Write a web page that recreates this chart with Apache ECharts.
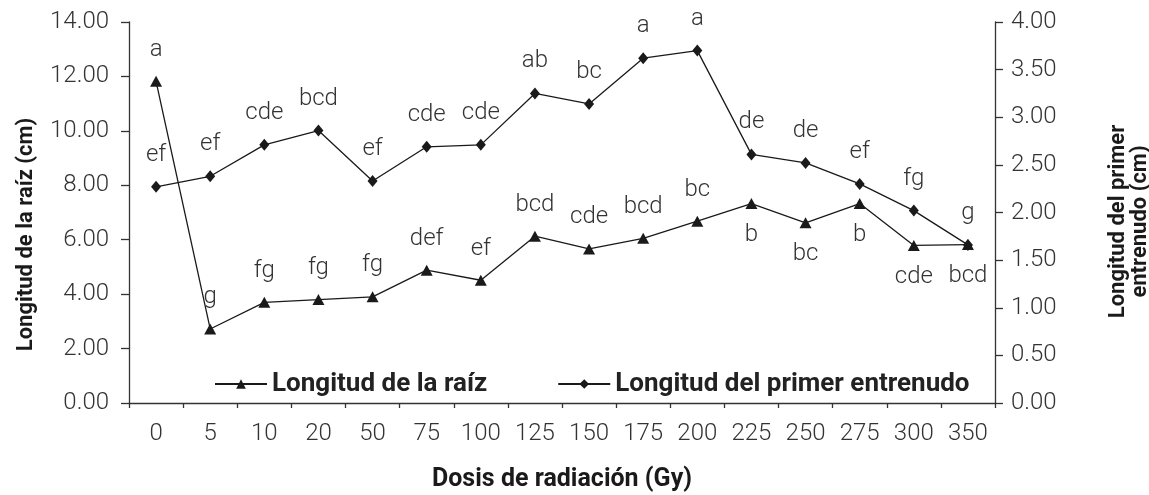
<!DOCTYPE html>
<html>
<head>
<meta charset="utf-8">
<script src="https://cdn.jsdelivr.net/npm/echarts@6/dist/echarts.min.js"></script>
<style>
  html, body { margin: 0; padding: 0; background: #fff; }
</style>
</head>
<body>
<div id="myChart" style="width:1149px;height:495px;"></div>
<script>
// datos
var dosis = ['0', '5', '10', '20', '50', '75', '100', '125', '150', '175', '200', '225', '250', '275', '300', '350'];
var raiz = [11.82, 2.72, 3.70, 3.80, 3.90, 4.88, 4.51, 6.13, 5.66, 6.05, 6.68, 7.33, 6.62, 7.33, 5.79, 5.82];
var raizLetras = ['a', 'g', 'fg', 'fg', 'fg', 'def', 'ef', 'bcd', 'cde', 'bcd', 'bc', 'b', 'bc', 'b', 'cde', 'bcd'];
var raizAbajo = [false, false, false, false, false, false, false, false, false, false, false, true, true, true, true, true];
var entrenudo = [2.27, 2.38, 2.71, 2.86, 2.33, 2.69, 2.71, 3.25, 3.14, 3.62, 3.70, 2.61, 2.52, 2.30, 2.02, 1.66];
var entrenudoLetras = ['ef', 'ef', 'cde', 'bcd', 'ef', 'cde', 'cde', 'ab', 'bc', 'a', 'a', 'de', 'de', 'ef', 'fg', 'g'];

var fuente = 'Roboto';
var negro = '#1a1a1a';

function conEtiquetas(valores, letras, abajo) {
  return valores.map(function (v, i) {
    return {
      value: v,
      label: {
        formatter: letras[i],
        position: (abajo && abajo[i]) ? 'bottom' : 'top'
      }
    };
  });
}

var myChart = echarts.init(document.getElementById('myChart'));

myChart.setOption({
  backgroundColor: '#fff',
  animation: false,
  textStyle: { fontFamily: fuente },
  grid: { left: 129, right: 154, top: 22, bottom: 92, outerBoundsMode: 'none' },
  legend: {
    left: 209,
    top: 366,
    itemWidth: 52,
    itemHeight: 12,
    itemGap: 70,
    textStyle: { fontFamily: fuente, fontSize: 26, fontWeight: 'bold', color: '#222' },
    data: ['Longitud de la raíz', 'Longitud del primer entrenudo']
  },
  xAxis: {
    type: 'category',
    data: dosis,
    boundaryGap: true,
    name: 'Dosis de radiación (Gy)',
    nameLocation: 'middle',
    nameGap: 64,
    nameTextStyle: { fontFamily: fuente, fontSize: 25, fontWeight: 'bold', color: negro },
    axisLine: { lineStyle: { color: '#333', width: 1.3 } },
    axisTick: { show: true, length: 5, lineStyle: { color: '#333', width: 1.3 } },
    axisLabel: { fontFamily: fuente, fontSize: 24, fontWeight: 300, color: '#333', margin: 19 }
  },
  yAxis: [
    {
      type: 'value',
      min: 0,
      max: 14,
      interval: 2,
      name: 'Longitud de la raíz (cm)',
      nameLocation: 'middle',
      nameGap: 92,
      nameTextStyle: {
        fontFamily: fuente, fontSize: 22, fontWeight: 'bold', color: negro,
        padding: [0, 44, 0, 0]
      },
      splitLine: { show: false },
      axisLine: { show: true, lineStyle: { color: '#333', width: 1.3 } },
      axisTick: { show: true, length: 8, lineStyle: { color: '#333', width: 1.3 } },
      axisLabel: {
        fontFamily: fuente, fontSize: 24, fontWeight: 300, color: '#333', margin: 20,
        formatter: function (v) { return v.toFixed(2); }
      }
    },
    {
      type: 'value',
      min: 0,
      max: 4,
      interval: 0.5,
      position: 'right',
      name: 'Longitud del primer\nentrenudo (cm)',
      nameLocation: 'middle',
      nameGap: 112,
      nameTextStyle: {
        fontFamily: fuente, fontSize: 22, fontWeight: 'bold', color: negro,
        lineHeight: 22, padding: [0, 18, 0, 0]
      },
      splitLine: { show: false },
      axisLine: { show: true, lineStyle: { color: '#333', width: 1.3 } },
      axisTick: { show: true, length: 8, lineStyle: { color: '#333', width: 1.3 } },
      axisLabel: {
        fontFamily: fuente, fontSize: 24, fontWeight: 300, color: '#333', margin: 16,
        formatter: function (v) { return v.toFixed(2); }
      }
    }
  ],
  series: [
    {
      name: 'Longitud de la raíz',
      type: 'line',
      yAxisIndex: 0,
      symbol: 'triangle',
      symbolSize: [12, 11],
      showAllSymbol: true,
      itemStyle: { color: negro },
      lineStyle: { color: negro, width: 1.3 },
      label: { show: true, distance: 14, fontFamily: fuente, fontSize: 24, fontWeight: 300, color: '#333' },
      data: conEtiquetas(raiz, raizLetras, raizAbajo)
    },
    {
      name: 'Longitud del primer entrenudo',
      type: 'line',
      yAxisIndex: 1,
      symbol: 'diamond',
      symbolSize: [10, 12],
      showAllSymbol: true,
      itemStyle: { color: negro },
      lineStyle: { color: negro, width: 1.3 },
      label: { show: true, distance: 14, fontFamily: fuente, fontSize: 24, fontWeight: 300, color: '#333' },
      data: conEtiquetas(entrenudo, entrenudoLetras, null)
    }
  ]
});
</script>
</body>
</html>
